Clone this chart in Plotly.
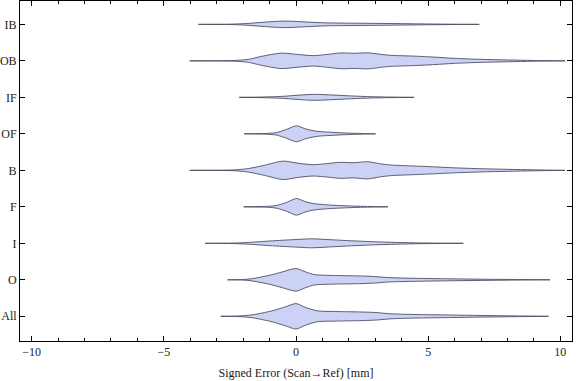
import plotly.graph_objects as go

# Categories from bottom to top
categories = ["All", "O", "I", "F", "B", "OF", "IF", "OB", "IB"]

# Estimated density profiles (x = signed error in mm, w = relative density / half-width)
x_all = [-2.85, -2.2, -1.7, -0.9, -0.4, 0.0, 0.35, 0.8, 1.5, 2.5, 3.0, 3.6, 4.5, 5.8, 7.0, 8.3, 9.55]
w_all = [0, 0.3, 1.3, 5.5, 9.5, 12.7, 9.0, 5.5, 4.8, 4.3, 3.8, 2.5, 1.8, 1.3, 0.8, 0.4, 0]

x_o = [-2.59, -2.0, -1.7, -1.0, -0.5, 0.0, 0.35, 0.7, 1.5, 2.5, 3.0, 3.5, 4.5, 5.8, 7.0, 8.3, 9.61]
w_o = [0, 0.3, 1.0, 4.5, 8.0, 11.3, 8.0, 5.2, 4.3, 3.8, 3.2, 2.2, 1.5, 1.0, 0.6, 0.3, 0]

x_i = [-3.44, -2.5, -2.0, -1.0, 0.0, 0.6, 1.3, 2.1, 3.0, 3.8, 4.7, 5.5, 6.33]
w_i = [0, 0.2, 0.6, 2.3, 3.8, 4.5, 3.6, 2.5, 1.5, 0.9, 0.4, 0.15, 0]

x_f = [-1.98, -1.2, -0.75, -0.35, 0.02, 0.35, 0.65, 1.2, 1.9, 2.6, 3.48]
w_f = [0, 0.3, 1.3, 4.5, 8.3, 5.2, 3.3, 1.9, 1.0, 0.4, 0]

x_b = [-4.02, -3.0, -2.3, -1.8, -1.2, -0.5, 0.1, 0.65, 1.2, 1.65, 2.2, 2.7, 3.2, 3.6, 4.6, 5.2, 6.0, 7.0, 8.0, 9.0, 10.18]
w_b = [0, 0.1, 0.5, 1.8, 5.0, 9.2, 7.0, 5.7, 6.8, 8.0, 7.6, 8.6, 6.5, 5.3, 4.2, 3.5, 2.5, 1.6, 1.0, 0.5, 0]

x_of = [-1.96, -1.2, -0.75, -0.35, 0.02, 0.35, 0.8, 1.3, 1.9, 2.5, 3.01]
w_of = [0, 0.3, 1.2, 4.5, 8.0, 5.0, 2.5, 1.6, 0.8, 0.3, 0]

x_if = [-2.15, -1.3, -0.5, 0.0, 0.7, 1.4, 2.1, 2.9, 3.8, 4.47]
w_if = [0, 0.3, 1.0, 2.0, 3.0, 2.3, 1.4, 0.6, 0.2, 0]

x_ob = [-4.02, -3.0, -2.3, -1.8, -1.3, -0.57, 0.1, 0.65, 1.2, 1.7, 2.2, 2.75, 3.2, 3.6, 4.5, 5.2, 6.0, 7.0, 8.0, 9.0, 10.18]
w_ob = [0, 0.1, 0.4, 1.5, 4.5, 7.7, 6.3, 5.2, 6.5, 7.9, 7.6, 8.0, 6.5, 5.5, 4.7, 3.8, 2.5, 1.5, 0.9, 0.4, 0]

x_ib = [-3.69, -2.5, -1.9, -1.2, -0.44, 0.3, 1.0, 2.0, 3.0, 4.0, 5.0, 6.0, 6.93]
w_ib = [0, 0.2, 0.8, 2.2, 3.3, 2.5, 1.6, 1.2, 1.0, 0.7, 0.4, 0.15, 0]

profiles = [(x_all, w_all), (x_o, w_o), (x_i, w_i), (x_f, w_f), (x_b, w_b),
            (x_of, w_of), (x_if, w_if), (x_ob, w_ob), (x_ib, w_ib)]

WIDTH_SCALE = 1 / 36.5  # density units -> category units

fill_color = "rgb(204,210,245)"
edge_color = "rgba(70,70,90,0.85)"

fig = go.Figure()
for k, (xs, ws) in enumerate(profiles):
    pos = k + 1
    top = [pos + w * WIDTH_SCALE for w in ws]
    bot = [pos - w * WIDTH_SCALE for w in ws]
    px = list(xs) + list(xs[::-1])
    py = top + bot[::-1]
    fig.add_trace(go.Scatter(
        x=px, y=py, mode="lines", fill="toself", fillcolor=fill_color,
        line=dict(color=edge_color, width=1, shape="spline", smoothing=0.8),
        hoverinfo="skip", showlegend=False,
    ))

font_family = "'Liberation Serif', 'Times New Roman', serif"

fig.update_layout(
    width=576, height=381,
    margin=dict(l=20, r=4, t=1, b=40),
    paper_bgcolor="white", plot_bgcolor="white",
    font=dict(family=font_family, size=12, color="#222"),
    showlegend=False,
)

fig.update_xaxes(
    range=[-10.44, 10.44],
    tickvals=[-10, -5, 0, 5, 10],
    ticktext=["\u221210", "\u22125", "0", "5", "10"],
    ticks="inside", ticklen=5, tickwidth=1, tickcolor="black",
    minor=dict(dtick=1, ticks="inside", ticklen=3, tickwidth=1, tickcolor="black", showgrid=False),
    showline=True, linecolor="black", linewidth=1, mirror="ticks",
    showgrid=False, zeroline=False,
    title=dict(text="Signed Error (Scan\u2192Ref) [mm]", font=dict(size=12, family=font_family), standoff=10),
    tickfont=dict(size=12, family=font_family),
    automargin=False,
)

fig.update_yaxes(
    range=[0.323, 9.64],
    tickvals=list(range(1, len(categories) + 1)),
    ticktext=categories,
    ticks="inside", ticklen=5, tickwidth=1, tickcolor="black",
    showline=True, linecolor="black", linewidth=1, mirror="ticks",
    showgrid=False, zeroline=False,
    tickfont=dict(size=12, family=font_family),
    automargin=False,
)

fig.write_html("out.html",
               config={"displayModeBar": False},
               post_script="document.body.style.margin='0';document.body.style.padding='0';")
